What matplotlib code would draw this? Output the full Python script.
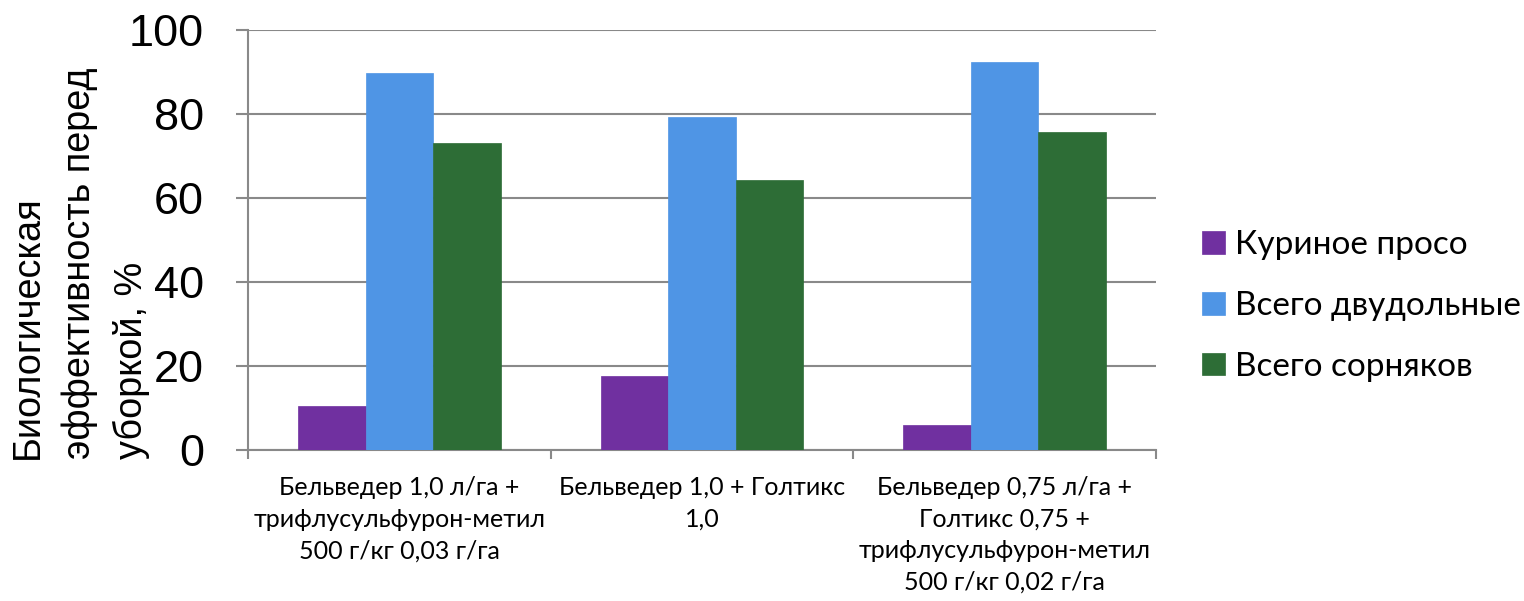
import matplotlib
matplotlib.use("Agg")
import matplotlib.pyplot as plt
import numpy as np

categories = [
    "Бельведер 1,0 л/га +\nтрифлусульфурон-метил\n500 г/кг 0,03 г/га",
    "Бельведер 1,0 + Голтикс\n1,0",
    "Бельведер 0,75 л/га +\nГолтикс 0,75 +\nтрифлусульфурон-метил\n500 г/кг 0,02 г/га",
]
series_names = ["Куриное просо", "Всего двудольные", "Всего сорняков"]
kurinoe_proso = [10.5, 17.5, 5.9]
vsego_dvudolnye = [89.6, 79.2, 92.3]
vsego_sornyakov = [73.0, 64.1, 75.6]
y_ticks = [0, 20, 40, 60, 80, 100]

colors = ["#7030A0", "#4F95E5", "#2D6D36"]
grid_color = "#898989"

fig = plt.figure(figsize=(15.24, 6.01), dpi=100)
ax = fig.add_axes([248 / 1524, 151 / 601, 908 / 1524, 420.5 / 601])

x = np.arange(1, len(categories) + 1)
bar_w = 0.223
series = [kurinoe_proso, vsego_dvudolnye, vsego_sornyakov]
for i, (vals, name, c) in enumerate(zip(series, series_names, colors)):
    ax.bar(x + (i - 1) * bar_w, vals, width=bar_w, color=c, label=name,
           edgecolor=c, linewidth=0.5, zorder=3)

ax.set_xlim(0.5, len(categories) + 0.5)
ax.set_ylim(0, 100)
ax.set_yticks(y_ticks)
ax.set_yticklabels([str(t) for t in y_ticks], fontsize=32.5, family="Liberation Sans")
ax.yaxis.grid(True, color=grid_color, linewidth=1.5, zorder=0)
ax.tick_params(axis="y", length=8.6, width=1.5, color=grid_color, pad=23, direction="out")

ax.set_xticks(x)
ax.set_xticklabels(categories, fontsize=18, family="Lato", linespacing=1.45)
ax.tick_params(axis="x", which="major", length=0, pad=19)
ax.set_xticks(np.arange(0.5, len(categories) + 1), minor=True)
ax.tick_params(axis="x", which="minor", length=6.5, width=1.5, color=grid_color, direction="out")

for side in ["top", "right"]:
    ax.spines[side].set_visible(False)
for side in ["left", "bottom"]:
    ax.spines[side].set_color(grid_color)
    ax.spines[side].set_linewidth(1.5)

fig.text(80 / 1524, (601 - 459) / 601,
         "Биологическая\nэффективность перед\nуборкой, %",
         rotation=90, ha="center", va="bottom", multialignment="left",
         fontsize=27.3, family="Liberation Sans", linespacing=1.52)

leg = fig.legend(loc="center left", bbox_to_anchor=(1189 / 1524, (601 - 306) / 601),
                 frameon=False, prop={"family": "Lato", "size": 24},
                 handlelength=0.67, handleheight=0.67, handletextpad=0.3,
                 labelspacing=0.92, borderaxespad=0)

fig.savefig("out.png", dpi=100)
